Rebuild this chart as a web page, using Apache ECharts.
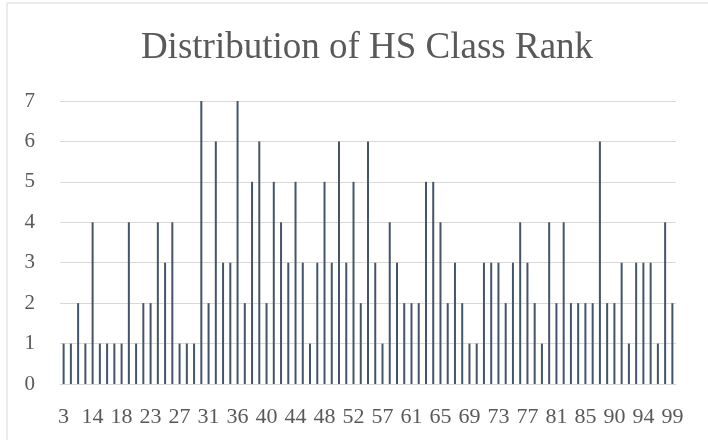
<!DOCTYPE html>
<html>
<head>
<meta charset="utf-8">
<script src="https://cdn.jsdelivr.net/npm/echarts@6/dist/echarts.min.js"></script>
<style>
  html, body { margin: 0; padding: 0; background: #fff; }
  #chart { width: 708px; height: 440px; }
</style>
</head>
<body>
<div id="chart"></div>
<script>
// class rank buckets (only every 4th one is labelled on the axis)
var ranks = [
  3, 5, 8, 11, 14, 15, 16, 17, 18, 19, 20, 22, 23, 24, 25, 26, 27,
  28, 29, 30, 31, 32, 33, 35, 36, 37, 38, 39, 40, 41, 42, 43, 44,
  45, 46, 47, 48, 49, 50, 51, 52, 53, 54, 56, 57, 58, 59, 60, 61,
  62, 63, 64, 65, 66, 67, 68, 69, 70, 71, 72, 73, 74, 75, 76, 77,
  78, 79, 80, 81, 82, 83, 84, 85, 86, 87, 89, 90, 91, 92, 93, 94,
  95, 97, 98, 99
];
var counts = [
  1, 1, 2, 1, 4, 1, 1, 1, 1, 4, 1, 2, 2, 4, 3, 4, 1, 1, 1, 7, 2,
  6, 3, 3, 7, 2, 5, 6, 2, 5, 4, 3, 5, 3, 1, 3, 5, 3, 6, 3, 5, 2, 6,
  3, 1, 4, 3, 2, 2, 2, 5, 5, 4, 2, 3, 2, 1, 1, 3, 3, 3, 2, 3, 4, 3,
  2, 1, 4, 2, 4, 2, 2, 2, 2, 6, 2, 2, 3, 1, 3, 3, 3, 1, 4, 2
];
var yTicks = [0, 1, 2, 3, 4, 5, 6, 7];

var font = "'Liberation Serif', serif";
var chart = echarts.init(document.getElementById("chart"));
chart.setOption({
  animation: false,
  backgroundColor: "#fff",
  title: {
    text: "Distribution of HS Class Rank",
    left: 362,
    top: 25,
    textAlign: "center",
    textStyle: {
      fontFamily: font,
      fontSize: 37,
      fontWeight: "normal",
      color: "#595959"
    }
  },
  graphic: [{
    type: "rect",
    shape: { x: 7, y: 3, width: 720, height: 460 },
    style: { fill: "none", stroke: "#d9d9d9", lineWidth: 1 },
    silent: true
  }],
  grid: {
    left: 60,
    right: 32,
    top: 101,
    bottom: 56
  },
  xAxis: {
    type: "category",
    data: ranks,
    axisTick: { show: false },
    axisLine: { lineStyle: { color: "#d9d9d9" } },
    axisLabel: {
      interval: 3,
      margin: 22,
      fontFamily: font,
      fontSize: 22,
      color: "#595959"
    }
  },
  yAxis: {
    type: "value",
    min: yTicks[0],
    max: yTicks[yTicks.length - 1],
    interval: 1,
    axisLine: { show: false },
    axisTick: { show: false },
    splitLine: { lineStyle: { color: "#d9d9d9" } },
    axisLabel: {
      margin: 25,
      fontFamily: font,
      fontSize: 21,
      color: "#595959"
    }
  },
  series: [{
    type: "bar",
    data: counts,
    barWidth: 2,
    itemStyle: { color: "#44546a" }
  }]
});
</script>
</body>
</html>
